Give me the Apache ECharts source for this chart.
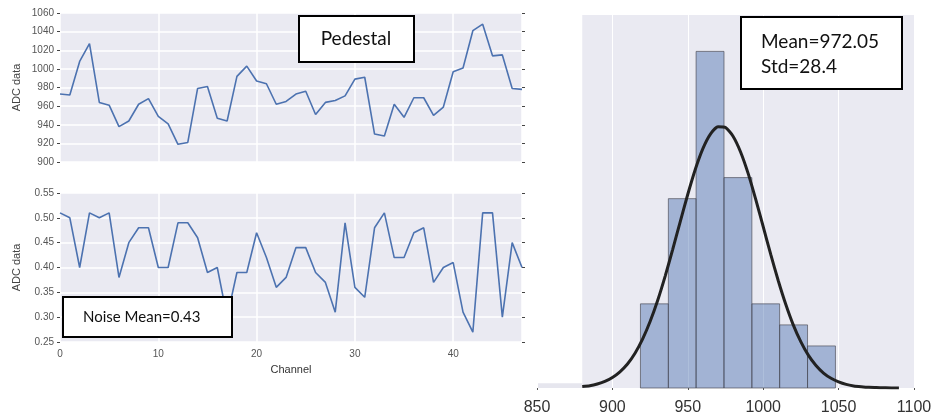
<!DOCTYPE html>
<html>
<head>
<meta charset="utf-8">
<script src="https://cdn.jsdelivr.net/npm/echarts@6/dist/echarts.min.js"></script>
<style>html,body{margin:0;padding:0;background:#fff}#c{width:945px;height:416px}</style>
</head>
<body>
<div id="c"></div>
<script>
// ---- data ----
const channels = Array.from({length: 48}, (_, i) => i);
const pedestal = [973, 972, 1008, 1027, 964, 961, 938, 944, 962, 968, 949, 941, 919, 921, 979, 981, 947, 944, 992, 1003, 987, 984, 962, 965, 973, 976, 951, 964, 966, 971, 989, 991, 930, 928, 962, 948, 969, 969, 950, 959, 997, 1001, 1041, 1048, 1014, 1015, 979, 978];
const noise = [0.51, 0.50, 0.40, 0.51, 0.50, 0.51, 0.38, 0.45, 0.48, 0.48, 0.40, 0.40, 0.49, 0.49, 0.46, 0.39, 0.40, 0.30, 0.39, 0.39, 0.47, 0.42, 0.36, 0.38, 0.44, 0.44, 0.39, 0.37, 0.31, 0.49, 0.36, 0.34, 0.48, 0.51, 0.42, 0.42, 0.47, 0.48, 0.37, 0.40, 0.41, 0.31, 0.27, 0.51, 0.51, 0.30, 0.45, 0.40];
const binEdges = [918.6, 937.1, 955.5, 974.0, 992.5, 1010.9, 1029.4, 1047.9];
const binCounts = [4, 9, 16, 10, 4, 3, 2];
const curveX = [880, 885, 890, 895, 900, 905, 910, 915, 920, 925, 930, 935, 940, 945, 950, 955, 960, 965, 970, 975, 980, 985, 990, 995, 1000, 1005, 1010, 1015, 1020, 1025, 1030, 1035, 1040, 1045, 1050, 1055, 1060, 1065, 1070, 1075, 1080, 1085, 1090];
const curveY = [0.07, 0.11, 0.19, 0.31, 0.50, 0.77, 1.14, 1.65, 2.32, 3.16, 4.16, 5.32, 6.59, 7.91, 9.21, 10.40, 11.38, 12.07, 12.42, 12.38, 11.97, 11.22, 10.20, 8.98, 7.67, 6.35, 5.10, 3.97, 2.99, 2.19, 1.55, 1.07, 0.71, 0.46, 0.29, 0.17, 0.10, 0.06, 0.03, 0.02, 0.01, 0.0, 0.0];
const histBgSpan = [880, 1100];
const histStripSpan = [850, 880];
const histStripHeight = 0.22;
const pedTicks = {min: 900, max: 1060, interval: 20};
const noiseTicks = {min: 0.25, max: 0.55, interval: 0.05};
const histTicks = {min: 850, max: 1100, interval: 50};
const histYMax = 17.73;
const texts = {pedestal: 'Pedestal', noise: 'Noise Mean=0.43', mean: 'Mean=972.05', std: 'Std=28.4', xName: 'Channel', yName: 'ADC data'};

// ---- chart ----
const LAV = '#EAEAF2';
const BLUE = '#4C72B0';
const chart = echarts.init(document.getElementById('c'), null, {renderer: 'canvas'});

function leftY(grid, t, name, fmt) {
  return [{
    gridIndex: grid, type: 'value', min: t.min, max: t.max, interval: t.interval,
    name: name, nameLocation: 'middle', nameGap: 38,
    nameTextStyle: {fontFamily: 'Liberation Sans', fontSize: 11, color: '#444'},
    axisLine: {show: false},
    axisTick: {show: true, length: 3, lineStyle: {color: '#444', width: 1}},
    axisLabel: {fontFamily: 'Liberation Sans', fontSize: 10, color: '#555', margin: 6, formatter: fmt},
    splitLine: {show: true, lineStyle: {color: '#fff', width: 1.5}}
  }, {
    gridIndex: grid, type: 'value', position: 'right', min: t.min, max: t.max, interval: t.interval,
    axisLine: {show: false},
    axisTick: {show: true, length: 3, lineStyle: {color: '#444', width: 1}},
    axisLabel: {show: false}, splitLine: {show: false}
  }];
}

const option = {
  animation: false,
  backgroundColor: '#fff',
  grid: [
    {left: 60, top: 13, width: 462, height: 149, show: true, backgroundColor: LAV, borderWidth: 0},
    {left: 60, top: 193, width: 462, height: 149, show: true, backgroundColor: LAV, borderWidth: 0},
    {left: 537, top: 15, width: 377, height: 373, show: false}
  ],
  xAxis: [
    {gridIndex: 0, type: 'value', min: 0, max: 47, interval: 10,
     axisLine: {show: false}, axisTick: {show: false}, axisLabel: {show: false},
     splitLine: {show: true, lineStyle: {color: '#fff', width: 1.5}}},
    {gridIndex: 1, type: 'value', min: 0, max: 47, interval: 10,
     name: texts.xName, nameLocation: 'middle', nameGap: 22,
     nameTextStyle: {fontFamily: 'Liberation Sans', fontSize: 11, color: '#333'},
     axisLine: {show: false}, axisTick: {show: false},
     axisLabel: {fontFamily: 'Liberation Sans', fontSize: 10, color: '#555', margin: 7, showMaxLabel: false},
     splitLine: {show: true, lineStyle: {color: '#fff', width: 1.5}}},
    {gridIndex: 2, type: 'value', min: histTicks.min, max: histTicks.max, interval: histTicks.interval,
     axisLine: {show: false},
     axisTick: {show: true, length: 2, lineStyle: {color: '#555'}},
     axisLabel: {fontFamily: 'Liberation Sans', fontSize: 16, color: '#333', margin: 12, formatter: v => String(v)},
     splitLine: {show: true, lineStyle: {color: '#fff', width: 1}}}
  ],
  yAxis: [
    ...leftY(0, pedTicks, texts.yName, v => String(v)),
    ...leftY(1, noiseTicks, texts.yName, v => v.toFixed(2)),
    {gridIndex: 2, type: 'value', min: 0, max: histYMax, show: false, splitLine: {show: false}}
  ],
  series: [
    {type: 'line', xAxisIndex: 0, yAxisIndex: 0, data: channels.map((c, i) => [c, pedestal[i]]),
     showSymbol: false, lineStyle: {color: BLUE, width: 1.6}, z: 3},
    {type: 'line', xAxisIndex: 1, yAxisIndex: 2, data: channels.map((c, i) => [c, noise[i]]),
     showSymbol: false, lineStyle: {color: BLUE, width: 1.6}, z: 3},
    {type: 'custom', xAxisIndex: 2, yAxisIndex: 4, z: -1, silent: true,
     data: [[histBgSpan[0], histBgSpan[1], histYMax, 0], [histStripSpan[0], histStripSpan[1], histStripHeight, 1]],
     renderItem: function (params, api) {
       const p0 = api.coord([api.value(0), api.value(2)]);
       const p1 = api.coord([api.value(1), 0]);
       return {type: 'rect', shape: {x: p0[0], y: p0[1], width: p1[0] - p0[0], height: p1[1] - p0[1]},
               style: {fill: api.value(3) ? '#E6E6EE' : LAV}};
     }},
    {type: 'custom', xAxisIndex: 2, yAxisIndex: 4, z: 2,
     data: binCounts.map((c, i) => [binEdges[i], binEdges[i + 1], c]),
     renderItem: function (params, api) {
       const p0 = api.coord([api.value(0), api.value(2)]);
       const p1 = api.coord([api.value(1), 0]);
       return {type: 'rect', shape: {x: p0[0], y: p0[1], width: p1[0] - p0[0], height: p1[1] - p0[1]},
               style: {fill: 'rgba(76,114,176,0.45)', stroke: 'rgba(70,70,80,0.65)', lineWidth: 1}};
     }},
    {type: 'line', xAxisIndex: 2, yAxisIndex: 4, data: curveX.map((x, i) => [x, curveY[i]]),
     smooth: 0.2, showSymbol: false, lineStyle: {color: '#222', width: 3}, z: 5}
  ],
  graphic: [
    {type: 'rect', z: 100, shape: {x: 299, y: 16, width: 115, height: 46}, style: {fill: '#fff', stroke: '#000', lineWidth: 2}},
    {type: 'text', z: 101, x: 356, y: 39, style: {text: texts.pedestal, font: '19px Lato', fill: '#111', align: 'center', verticalAlign: 'middle'}},
    {type: 'rect', z: 100, shape: {x: 63, y: 297, width: 169, height: 40}, style: {fill: '#fff', stroke: '#000', lineWidth: 2}},
    {type: 'text', z: 101, x: 83, y: 317, style: {text: texts.noise, font: '15px Lato', fill: '#111', align: 'left', verticalAlign: 'middle'}},
    {type: 'rect', z: 100, shape: {x: 741, y: 17, width: 161, height: 72}, style: {fill: '#fff', stroke: '#000', lineWidth: 2}},
    {type: 'text', z: 101, x: 761, y: 42, style: {text: texts.mean, font: '19px Lato', fill: '#111', align: 'left', verticalAlign: 'middle'}},
    {type: 'text', z: 101, x: 761, y: 67, style: {text: texts.std, font: '19px Lato', fill: '#111', align: 'left', verticalAlign: 'middle'}}
  ]
};
chart.setOption(option);
</script>
</body>
</html>
